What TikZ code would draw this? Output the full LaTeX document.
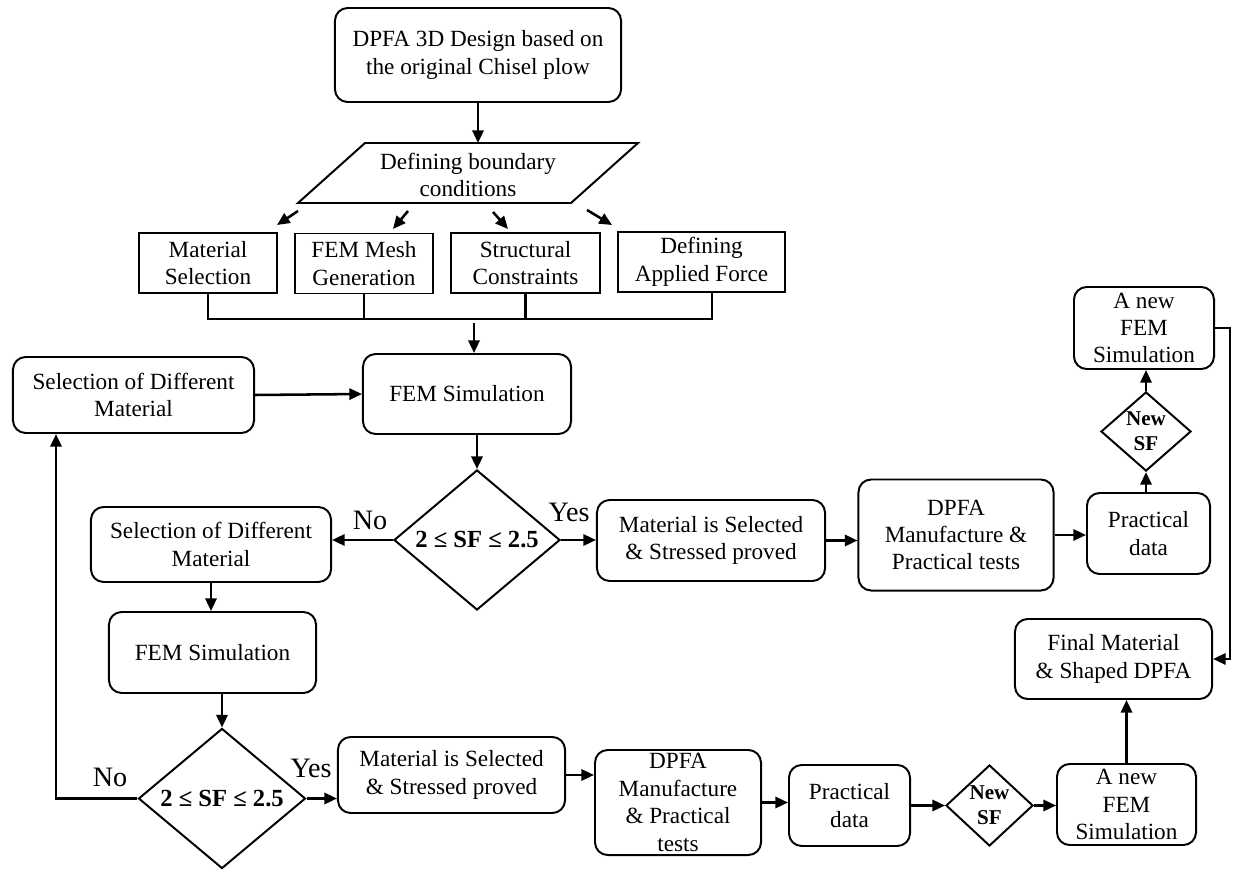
\documentclass[tikz,border=0pt]{standalone}
\usepackage{fontspec}
\setmainfont{Liberation Serif}
\usetikzlibrary{arrows.meta,shapes.geometric}

\tikzset{
  box/.style={draw, line width=1.4pt, align=center, inner sep=2pt},
  rbox/.style={box, rounded corners=9pt},
  dec/.style={draw, diamond, line width=1.4pt, align=center, inner sep=0pt},
  arr/.style={line width=1.8pt, -{Triangle[length=9pt,width=8pt]}},
  link/.style={line width=1.8pt},
  lbl/.style={font=\fontsize{20}{24}\selectfont},
}

\begin{document}
\begin{tikzpicture}[x=0.025cm, y=-0.025cm, font=\fontsize{16.5}{19.5}\selectfont]
\useasboundingbox (0,0) rectangle (1238,873);

% start and boundary conditions
\node[rbox, minimum width=7.15cm, minimum height=2.35cm] (design) at (478,55) {DPFA 3D Design based on\\the original Chisel plow};
\coordinate (bc-sw) at (298,203);
\coordinate (bc-se) at (571,203);
\coordinate (bc-ne) at (638,143);
\coordinate (bc-nw) at (365,143);
\draw[line width=1.4pt] (bc-sw) -- (bc-se) -- (bc-ne) -- (bc-nw) -- cycle;
\node[align=center] (bc) at (468,175) {Defining boundary\\conditions};
\draw[arr] (design.south) -- (design.south |- bc-nw);

\coordinate (t1) at (298,211); \coordinate (h1) at (277,225);
\coordinate (t2) at (408,211); \coordinate (h2) at (393,229);
\coordinate (t3) at (493,212); \coordinate (h3) at (508,229);
\coordinate (t4) at (587,210); \coordinate (h4) at (612,225);
\foreach \i in {1,...,4}
  \draw[arr] (t\i) -- (h\i);

\node[box, minimum width=3.45cm, minimum height=1.5cm] (matsel) at (208,263) {Material\\Selection};
\node[box, minimum width=3.45cm, minimum height=1.5cm] (mesh) at (364,263.5) {FEM Mesh\\Generation};
\node[box, minimum width=3.725cm, minimum height=1.5cm] (constr) at (525.5,263) {Structural\\Constraints};
\node[box, minimum width=4.175cm, minimum height=1.5cm] (force) at (701.5,262) {Defining\\Applied Force};

\coordinate (join) at (474,319);
\draw[link] (matsel.south) |- (join) -| ([xshift=0.26cm]force.south);
\draw[link] (mesh.south) -- (mesh.south |- join);
\draw[link] (constr.south) -- (constr.south |- join);

% first loop
\node[rbox, minimum width=5.2cm, minimum height=2cm] (fem1) at (467,394) {FEM Simulation};
\node[rbox, minimum width=6.025cm, minimum height=1.9cm] (diff1) at (133.5,395) {Selection of Different\\Material};
\node[dec, minimum width=4.15cm, minimum height=3.5cm, font=\fontsize{17.5}{21}\selectfont\bfseries] (sf1) at (477,540) {2 ≤ SF ≤ 2.5};
\node[rbox, minimum width=6cm, minimum height=1.875cm] (diff2) at (211,544.5) {Selection of Different\\Material};
\node[rbox, minimum width=5.7cm, minimum height=2.025cm] (ok1) at (711,540.5) {Material is Selected\\\& Stressed proved};
\node[rbox, minimum width=4.875cm, minimum height=2.775cm] (make1) at (956,535) {DPFA\\Manufacture \&\\Practical tests};
\node[rbox, minimum width=3.075cm, minimum height=2.025cm] (data1) at (1148.5,533.5) {Practical\\data};
\node[dec, minimum width=2.25cm, minimum height=1.975cm, font=\fontsize{15}{18}\selectfont\bfseries] (new1) at (1146,431.5) {New\\SF};
\node[rbox, minimum width=3.5cm, minimum height=2.05cm] (sim1) at (1144,328) {A new\\FEM\\Simulation};
\node[rbox, minimum width=4.925cm, minimum height=2cm] (final) at (1113.5,659) {Final Material\\\& Shaped DPFA};

\node[lbl] (no1) at (370,520) {No};
\node[lbl] (yes1) at (569,512) {Yes};

\draw[arr] ([yshift=-0.1cm]join) -- (join |- fem1.north);
\draw[arr] (diff1.east) -- (fem1.west);
\draw[arr] (fem1.south -| sf1.north) -- (sf1.north);
\draw[arr] (sf1.west) -- (sf1.west -| diff2.east);
\draw[arr] (sf1.east) -- (sf1.east -| ok1.west);
\draw[arr] (ok1.east) -- (ok1.east -| make1.west);
\draw[arr] (make1.east) -- (make1.east -| data1.west);
\draw[arr] (data1.north -| new1.south) -- (new1.south);
\draw[arr] (new1.north) -- (new1.north |- sim1.south);
\coordinate (rail) at (1230,327);
\draw[arr] (sim1.east) -- (sim1.east -| rail) |- (final.east);

% second loop
\node[rbox, minimum width=5.175cm, minimum height=2.025cm] (fem2) at (212.5,652.5) {FEM Simulation};
\node[dec, minimum width=4.175cm, minimum height=3.475cm, font=\fontsize{17.5}{21}\selectfont\bfseries] (sf2) at (222,798.5) {2 ≤ SF ≤ 2.5};
\node[rbox, minimum width=5.675cm, minimum height=1.9cm] (ok2) at (451.5,775) {Material is Selected\\\& Stressed proved};
\node[rbox, minimum width=4.15cm, minimum height=2.625cm, inner ysep=0pt] (make2) at (678,802.5) {DPFA\\Manufacture\\\& Practical\\tests};
\node[rbox, minimum width=3.025cm, minimum height=2.025cm] (data2) at (849.5,805.5) {Practical\\data};
\node[dec, minimum width=2.175cm, minimum height=2.025cm, font=\fontsize{15}{18}\selectfont\bfseries] (new2) at (989.5,805.5) {New\\SF};
\node[rbox, minimum width=3.475cm, minimum height=2.025cm] (sim2) at (1126.5,804.5) {A new\\FEM\\Simulation};

\node[lbl] (no2) at (110,777) {No};
\node[lbl] (yes2) at (311,768) {Yes};

\draw[arr] (diff2.south) -- (diff2.south |- fem2.north);
\draw[arr] (fem2.south -| sf2.north) -- (sf2.north);
\coordinate (back) at (56,795);
\draw[arr] (sf2.west) -| (back |- diff1.south);
\draw[arr] (sf2.east) -- (sf2.east -| ok2.west);
\draw[arr] (ok2.east) -- (ok2.east -| make2.west);
\draw[arr] (make2.east) -- (make2.east -| data2.west);
\draw[arr] (data2.east) -- (new2.west);
\draw[arr] (new2.east) -- (new2.east -| sim2.west);
\draw[arr] (sim2.north) -- (sim2.north |- final.south);
\end{tikzpicture}
\end{document}
